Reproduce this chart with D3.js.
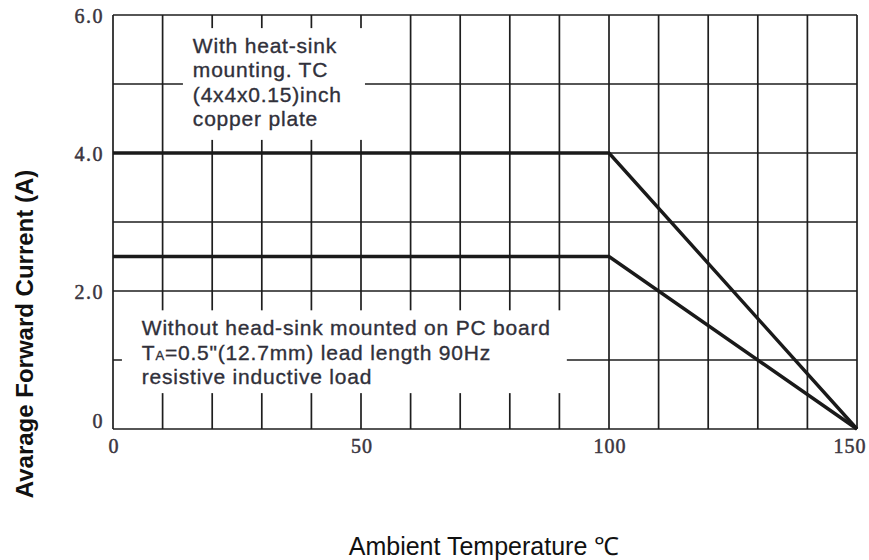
<!DOCTYPE html>
<html>
<head>
<meta charset="utf-8">
<script src="https://cdn.jsdelivr.net/npm/d3@7"></script>
<style>
  body { margin: 0; background: #fff; }
  svg { display: block; }
</style>
</head>
<body>
<script>
// derating curves
const temps = [0, 100, 150];            // ambient temperature (C)
const withSink = [4.0, 4.0, 0];         // with heat-sink
const withoutSink = [2.5, 2.5, 0];      // without heat-sink

const xTickLabels = [0, 50, 100, 150];
const yTickLabels = ['0', '2.0', '4.0', '6.0'];
const yTickValues = [0, 2, 4, 6];

const note1 = ['With heat-sink', 'mounting. TC', '(4x4x0.15)inch', 'copper plate'];
const note2 = ['Without head-sink mounted on PC board', 'T|A|=0.5"(12.7mm) lead length 90Hz', 'resistive inductive load'];

const width = 869, height = 560;

const x = d3.scaleLinear().domain([0, 150]).range([113, 857]);
const y = d3.scaleLinear().domain([0, 6]).range([429, 15]);

const svg = d3.select('body').append('svg')
  .attr('width', width)
  .attr('height', height);

// grid
const grid = svg.append('g')
  .attr('stroke', '#1e1e1e')
  .attr('stroke-width', 1.7);

grid.selectAll('.vx')
  .data(x.ticks(15))
  .enter()
  .append('line')
  .attr('x1', d => x(d)).attr('x2', d => x(d))
  .attr('y1', y(0)).attr('y2', y(6));

grid.selectAll('.hy')
  .data(y.ticks(6))
  .enter()
  .append('line')
  .attr('x1', x(0)).attr('x2', x(150))
  .attr('y1', d => y(d)).attr('y2', d => y(d));

// curves
const line = d3.line()
  .x((d, i) => x(temps[i]))
  .y(d => y(d));

[withSink, withoutSink].forEach(function(s) {
  svg.append('path')
    .attr('d', line(s))
    .attr('fill', 'none')
    .attr('stroke', '#1a1a1a')
    .attr('stroke-width', 3.4)
    .attr('stroke-linejoin', 'miter');
});

// note boxes (white, hide the grid behind them)
const boxes = [
  { x0: 14.1, x1: 50.8, y0: 5.81, y1: 4.19, tx: 16.1, ty: 5.45, lines: note1 },
  { x0: 1.8, x1: 91.5, y0: 1.72, y1: 0.52, tx: 5.8, ty: 1.36, lines: note2 }
];

boxes.forEach(function(b) {
  svg.append('rect')
    .attr('x', x(b.x0))
    .attr('y', y(b.y0))
    .attr('width', x(b.x1) - x(b.x0))
    .attr('height', y(b.y1) - y(b.y0))
    .attr('fill', '#fff');

  const t = svg.append('text')
    .attr('font-family', 'Arial, "Liberation Sans", sans-serif')
    .attr('font-size', 21)
    .attr('letter-spacing', 0.8)
    .attr('fill', '#30303a')
    .attr('stroke', '#30303a')
    .attr('stroke-width', 0.35);

  b.lines.forEach(function(l, i) {
    const parts = l.split('|');
    t.append('tspan')
      .attr('x', x(b.tx))
      .attr('y', y(b.ty) + i * 24.5)
      .text(parts[0]);
    if (parts.length > 1) {
      t.append('tspan').attr('font-size', 13).text(parts[1]);
      t.append('tspan').text(parts[2]);
    }
  });
});

// tick labels
const tickFont = '"Times New Roman", "Liberation Serif", serif';

svg.selectAll('.ylab')
  .data(yTickValues)
  .enter()
  .append('text')
  .attr('x', 104)
  .attr('y', d => y(d) + (d === 0 ? -1 : 8))
  .attr('text-anchor', 'end')
  .attr('font-family', tickFont)
  .attr('font-size', 20)
  .attr('letter-spacing', 1.5)
  .attr('fill', '#3a3640')
  .attr('stroke', '#3a3640')
  .attr('stroke-width', 0.5)
  .text((d, i) => yTickLabels[i]);

svg.selectAll('.xlab')
  .data(xTickLabels)
  .enter()
  .append('text')
  .attr('x', d => x(d) + (d === 150 ? -7 : 1))
  .attr('y', 453)
  .attr('text-anchor', 'middle')
  .attr('font-family', tickFont)
  .attr('font-size', 20)
  .attr('letter-spacing', 1)
  .attr('fill', '#3a3640')
  .attr('stroke', '#3a3640')
  .attr('stroke-width', 0.5)
  .text(d => d);

// axis titles
svg.append('text')
  .attr('transform', 'translate(33,334) rotate(-90)')
  .attr('text-anchor', 'middle')
  .attr('font-family', 'Arial, "Liberation Sans", sans-serif')
  .attr('font-weight', 'bold')
  .attr('font-size', 24)
  .attr('fill', '#111')
  .text('Avarage Forward Current (A)');

svg.append('text')
  .attr('x', 484)
  .attr('y', 555)
  .attr('text-anchor', 'middle')
  .attr('font-family', 'Arial, "Liberation Sans", sans-serif')
  .attr('font-size', 25)
  .attr('fill', '#111')
  .text('Ambient Temperature \u2103');
</script>
</body>
</html>
